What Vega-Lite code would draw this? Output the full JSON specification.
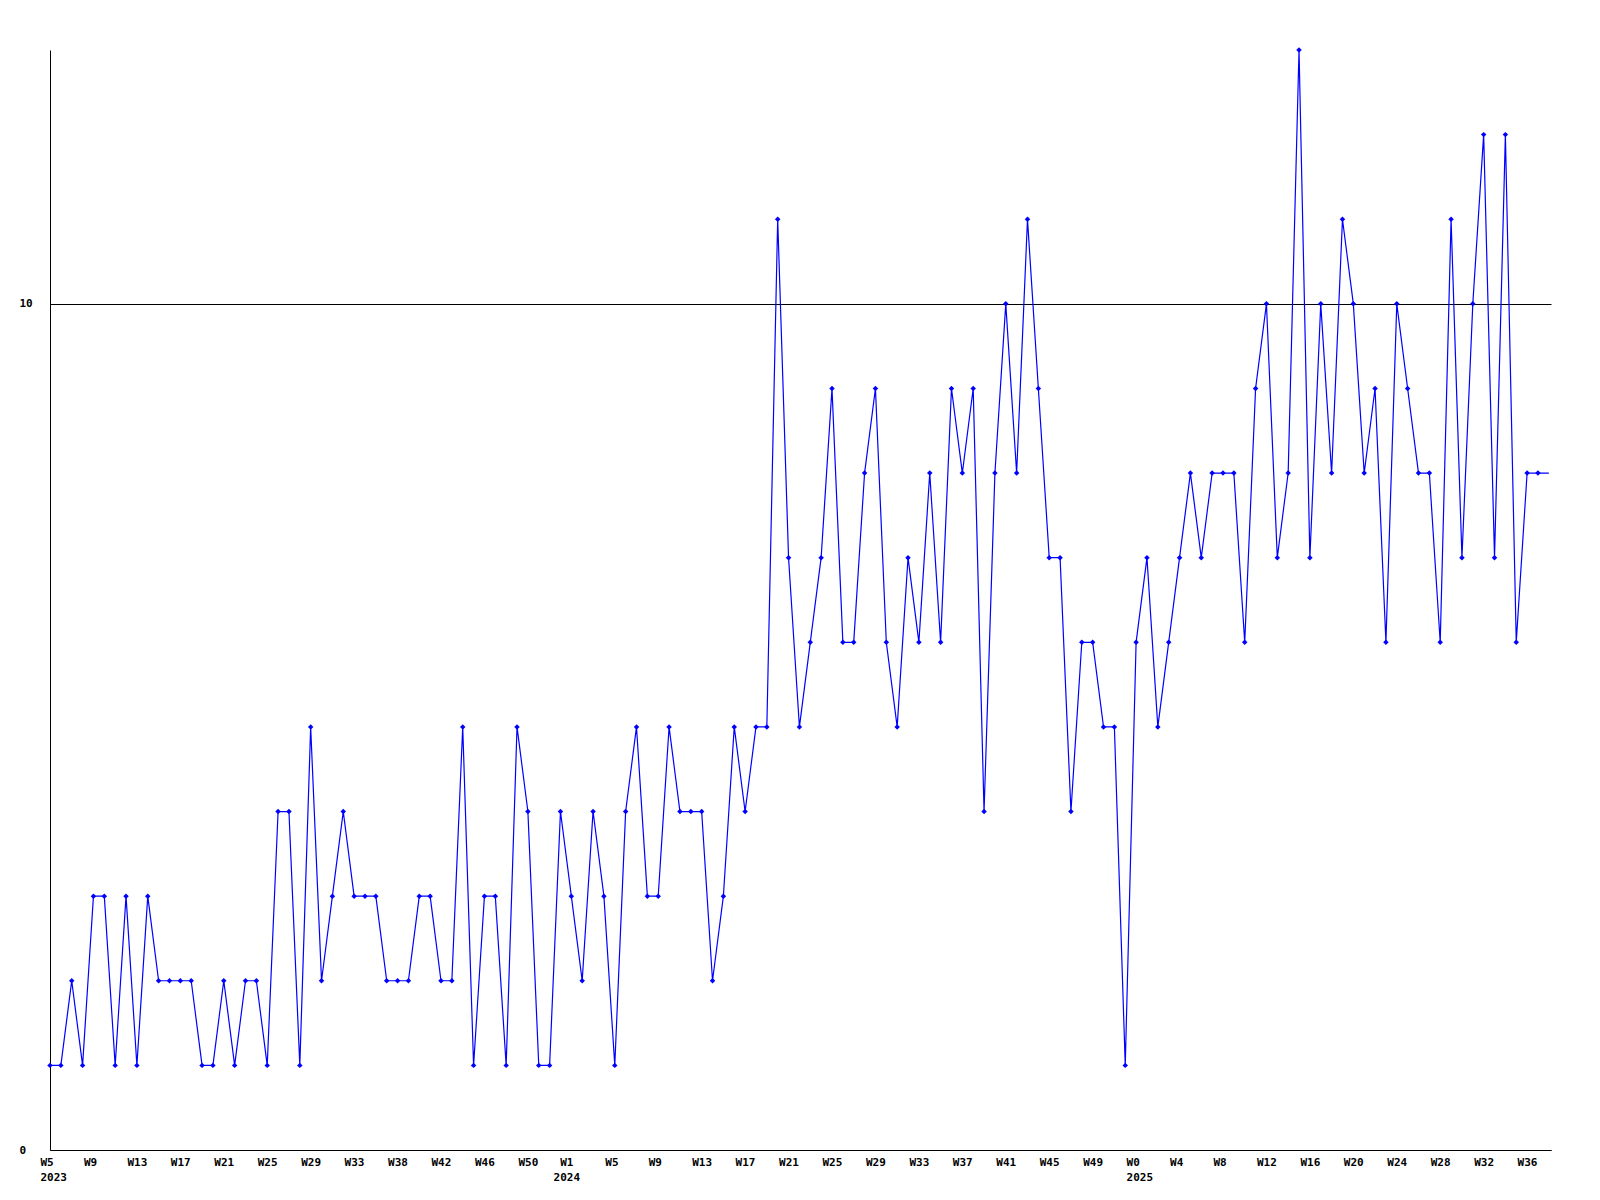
{
  "$schema": "https://vega.github.io/schema/vega-lite/v6.json",
  "autosize": {"type": "none"},
  "padding": {"left": 50, "top": 50, "right": 49, "bottom": 50},
  "width": 1501,
  "height": 1100,
  "background": "white",
  "config": {
    "view": {"stroke": null},
    "axis": {
      "labelFont": "DejaVu Sans Mono",
      "labelFontSize": 11,
      "labelFontWeight": "bold",
      "labelColor": "black",
      "domainColor": "black",
      "domainWidth": 1,
      "ticks": false,
      "title": null
    }
  },
  "data": {
    "values": [
      {"n":0,"count":1},{"n":1,"count":1},{"n":2,"count":2},{"n":3,"count":1},{"n":4,"count":3},{"n":5,"count":3},{"n":6,"count":1},{"n":7,"count":3},{"n":8,"count":1},{"n":9,"count":3},
      {"n":10,"count":2},{"n":11,"count":2},{"n":12,"count":2},{"n":13,"count":2},{"n":14,"count":1},{"n":15,"count":1},{"n":16,"count":2},{"n":17,"count":1},{"n":18,"count":2},{"n":19,"count":2},
      {"n":20,"count":1},{"n":21,"count":4},{"n":22,"count":4},{"n":23,"count":1},{"n":24,"count":5},{"n":25,"count":2},{"n":26,"count":3},{"n":27,"count":4},{"n":28,"count":3},{"n":29,"count":3},
      {"n":30,"count":3},{"n":31,"count":2},{"n":32,"count":2},{"n":33,"count":2},{"n":34,"count":3},{"n":35,"count":3},{"n":36,"count":2},{"n":37,"count":2},{"n":38,"count":5},{"n":39,"count":1},
      {"n":40,"count":3},{"n":41,"count":3},{"n":42,"count":1},{"n":43,"count":5},{"n":44,"count":4},{"n":45,"count":1},{"n":46,"count":1},{"n":47,"count":4},{"n":48,"count":3},{"n":49,"count":2},
      {"n":50,"count":4},{"n":51,"count":3},{"n":52,"count":1},{"n":53,"count":4},{"n":54,"count":5},{"n":55,"count":3},{"n":56,"count":3},{"n":57,"count":5},{"n":58,"count":4},{"n":59,"count":4},
      {"n":60,"count":4},{"n":61,"count":2},{"n":62,"count":3},{"n":63,"count":5},{"n":64,"count":4},{"n":65,"count":5},{"n":66,"count":5},{"n":67,"count":11},{"n":68,"count":7},{"n":69,"count":5},
      {"n":70,"count":6},{"n":71,"count":7},{"n":72,"count":9},{"n":73,"count":6},{"n":74,"count":6},{"n":75,"count":8},{"n":76,"count":9},{"n":77,"count":6},{"n":78,"count":5},{"n":79,"count":7},
      {"n":80,"count":6},{"n":81,"count":8},{"n":82,"count":6},{"n":83,"count":9},{"n":84,"count":8},{"n":85,"count":9},{"n":86,"count":4},{"n":87,"count":8},{"n":88,"count":10},{"n":89,"count":8},
      {"n":90,"count":11},{"n":91,"count":9},{"n":92,"count":7},{"n":93,"count":7},{"n":94,"count":4},{"n":95,"count":6},{"n":96,"count":6},{"n":97,"count":5},{"n":98,"count":5},{"n":99,"count":1},
      {"n":100,"count":6},{"n":101,"count":7},{"n":102,"count":5},{"n":103,"count":6},{"n":104,"count":7},{"n":105,"count":8},{"n":106,"count":7},{"n":107,"count":8},{"n":108,"count":8},{"n":109,"count":8},
      {"n":110,"count":6},{"n":111,"count":9},{"n":112,"count":10},{"n":113,"count":7},{"n":114,"count":8},{"n":115,"count":13},{"n":116,"count":7},{"n":117,"count":10},{"n":118,"count":8},{"n":119,"count":11},
      {"n":120,"count":10},{"n":121,"count":8},{"n":122,"count":9},{"n":123,"count":6},{"n":124,"count":10},{"n":125,"count":9},{"n":126,"count":8},{"n":127,"count":8},{"n":128,"count":6},{"n":129,"count":11},
      {"n":130,"count":7},{"n":131,"count":10},{"n":132,"count":12},{"n":133,"count":7},{"n":134,"count":12},{"n":135,"count":6},{"n":136,"count":8},{"n":137,"count":8},{"n":138,"count":8}
    ]
  },
  "encoding": {
    "x": {
      "field": "n",
      "type": "quantitative",
      "scale": {"domain": [0, 138.2], "nice": false, "zero": false},
      "axis": {
        "values": [0,4,8,12,16,20,24,28,32,36,40,44,48,52,56,60,64,68,72,76,80,84,88,92,96,100,104,108,112,116,120,124,128,132,136],
        "labelExpr": "[['W5','2023'],'W9','W13','W17','W21','W25','W29','W33','W38','W42','W46','W50',['W1','2024'],'W5','W9','W13','W17','W21','W25','W29','W33','W37','W41','W45','W49',['W0','2025'],'W4','W8','W12','W16','W20','W24','W28','W32','W36'][round(datum.value/4)]",
        "labelAlign": {"condition": {"test": "datum.value == 48", "value": "center"}, "value": "left"},
        "labelOffset": {"condition": {"test": "datum.value == 48", "value": -5}, "value": -10},
        "labelBaseline": "top",
        "labelPadding": 6,
        "labelLineHeight": 15,
        "labelOverlap": false,
        "labelFlush": false,
        "labelBound": false,
        "grid": false
      }
    },
    "y": {
      "field": "count",
      "type": "quantitative",
      "scale": {"domain": [0, 13], "nice": false, "zero": true},
      "axis": {
        "values": [0, 10],
        "grid": true,
        "gridColor": "black",
        "gridOpacity": 1,
        "gridWidth": 1,
        "labelAlign": "left",
        "labelBaseline": "middle",
        "labelPadding": 31,
        "labelOverlap": false,
        "labelFlush": false
      }
    }
  },
  "layer": [
    {"mark": {"type": "line", "color": "#0000ff", "strokeWidth": 1.2, "interpolate": "linear"}},
    {
      "transform": [{"filter": "datum.n < 138"}],
      "mark": {"type": "point", "shape": "diamond", "filled": true, "color": "#0000ff", "size": 30, "opacity": 1}
    }
  ]
}
